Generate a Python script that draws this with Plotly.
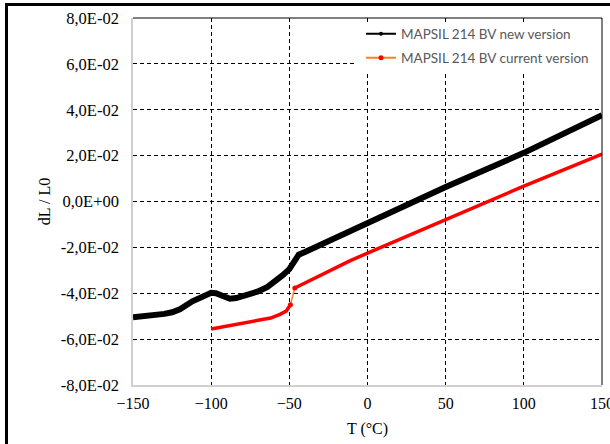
import plotly.graph_objects as go

# ---- data ----
new_T = [-150, -140, -130, -125, -120, -112, -105, -100, -97, -93, -88, -84, -78, -70,
         -64, -58, -54, -50, -47, -44, -40, -30, -11, 0, 50, 100, 150]
new_v = [-0.0505, -0.0500, -0.0490, -0.0483, -0.0470, -0.0435, -0.0410, -0.0398, -0.0400,
         -0.0412, -0.0424, -0.0421, -0.0410, -0.0392, -0.0372, -0.0345, -0.0320, -0.0295,
         -0.0262, -0.0232, -0.0220, -0.0188, -0.0132, -0.0095, 0.0063, 0.0212, 0.0376]

cur_T = [-100, -90, -80, -70, -62, -56, -52, -49.3, -46.5, -40, -30, -11, 0, 50, 100, 150]
cur_v = [-0.0556, -0.0543, -0.0532, -0.0520, -0.0508, -0.0492, -0.0478, -0.0450,
         -0.0377, -0.0355, -0.0322, -0.0258, -0.0225, -0.0080, 0.0067, 0.0207]
jump = 7  # index of last point before the step

y_ticks = [-0.08, -0.06, -0.04, -0.02, 0.0, 0.02, 0.04, 0.06, 0.08]
y_text = ["-8,0E-02", "-6,0E-02", "-4,0E-02", "-2,0E-02", "0,0E+00",
          "2,0E-02", "4,0E-02", "6,0E-02", "8,0E-02"]
x_ticks = [-150, -100, -50, 0, 50, 100, 150]

name_new = "MAPSIL 214 BV new version"
name_cur = "MAPSIL 214 BV current version"

fig = go.Figure()
fig.add_trace(go.Scatter(x=new_T, y=new_v, mode="lines", line=dict(color="black", width=6),
                         showlegend=False))
fig.add_trace(go.Scatter(x=cur_T[:jump + 1], y=cur_v[:jump + 1], mode="lines",
                         line=dict(color="#ff0000", width=3.5), showlegend=False))
fig.add_trace(go.Scatter(x=cur_T[jump + 1:], y=cur_v[jump + 1:], mode="lines",
                         line=dict(color="#ff0000", width=3.5), showlegend=False))
fig.add_trace(go.Scatter(x=cur_T[jump:jump + 2], y=cur_v[jump:jump + 2], mode="lines+markers",
                         line=dict(color="#ff7f27", width=1.5),
                         marker=dict(color="#ff0000", size=5), showlegend=False))
# legend entries
fig.add_trace(go.Scatter(x=[None], y=[None], mode="lines+markers", name=name_new,
                         line=dict(color="black", width=2), marker=dict(color="black", size=4),
                         legend="legend"))
fig.add_trace(go.Scatter(x=[None], y=[None], mode="lines+markers", name=name_cur,
                         line=dict(color="#ff7f27", width=2), marker=dict(color="#ff0000", size=5),
                         legend="legend2"))

serif = "Liberation Serif"
legfont = dict(family="Lato", size=13.5, color="#595959")
L, R, T, B = 133, 8, 18, 59
W, H = 610, 444
pw, ph = W - L - R, H - T - B

def px(xp):
    return (xp - L) / pw

def py(yp):
    return (H - B - yp) / ph

fig.update_layout(
    width=W, height=H,
    margin=dict(l=L, r=R, t=T, b=B, autoexpand=False),
    paper_bgcolor="white", plot_bgcolor="white",
    xaxis=dict(range=[-150, 150], tickvals=x_ticks, showgrid=True, gridcolor="black",
               griddash="4px,3px", gridwidth=1, zeroline=False, showline=True,
               linecolor="#d0d0d0", linewidth=1.5, ticks="", ticklabelstandoff=3,
               ticklabeloverflow="allow",
               tickfont=dict(family=serif, size=16, color="black"),
               title=dict(text="T (°C)", font=dict(family=serif, size=16, color="black"),
                          standoff=12)),
    yaxis=dict(range=[-0.08, 0.08], tickvals=y_ticks, ticktext=y_text, showgrid=True,
               gridcolor="black", griddash="4px,3px", gridwidth=1, zeroline=False,
               showline=True, linecolor="#d0d0d0", linewidth=1.5, ticks="",
               ticklabelstandoff=9,
               tickfont=dict(family=serif, size=16.5, color="black"),
               title=dict(text="dL / L0", font=dict(family=serif, size=16, color="black"),
                          standoff=6)),
    legend=dict(x=px(361), y=py(34), xanchor="left", yanchor="middle", font=legfont,
                bgcolor="rgba(0,0,0,0)"),
    legend2=dict(x=px(361), y=py(58), xanchor="left", yanchor="middle", font=legfont,
                 bgcolor="rgba(0,0,0,0)"),
    shapes=[
        # legend background box
        dict(type="rect", xref="paper", yref="paper", x0=px(355), x1=px(599), y0=py(72),
             y1=py(23), fillcolor="white", line=dict(width=0), layer="above"),
        # plot-area border top and right
        dict(type="line", xref="paper", yref="paper", x0=0, x1=1, y0=1, y1=1,
             line=dict(color="black", width=1)),
        dict(type="line", xref="paper", yref="paper", x0=1, x1=1, y0=0, y1=1,
             line=dict(color="black", width=1)),
        # outer frame top and left
        dict(type="line", xref="paper", yref="paper", x0=px(5), x1=px(612), y0=py(4.5),
             y1=py(4.5), line=dict(color="black", width=3)),
        dict(type="line", xref="paper", yref="paper", x0=px(6.5), x1=px(6.5), y0=py(3),
             y1=py(450), line=dict(color="black", width=3)),
    ],
)

fig.write_html("out.html", config={"displayModeBar": False},
               post_script="document.body.style.margin='0px';")
